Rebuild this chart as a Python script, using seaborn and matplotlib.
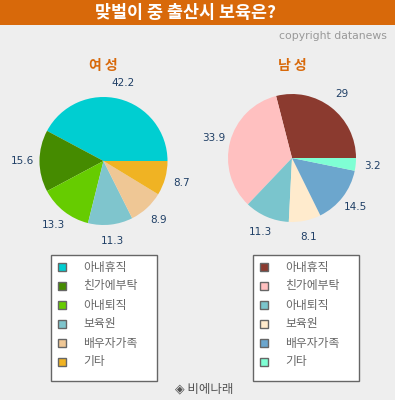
import numpy as np
import matplotlib
matplotlib.use('Agg')
import matplotlib.pyplot as plt
import seaborn as sns
from matplotlib.patches import Rectangle

# data
female_cats = ['아내휴직', '친가에부탁', '아내퇴직', '보육원', '배우자가족', '기타']
female_vals = [42.2, 15.6, 13.3, 11.3, 8.9, 8.7]
male_cats = ['아내휴직', '친가에부탁', '아내퇴직', '보육원', '배우자가족', '기타']
male_vals = [29, 33.9, 11.3, 8.1, 14.5, 3.2]
female_colors = ['#00CED1', '#458B00', '#66CC00', '#7FC5CD', '#EFC795', '#F0B323']
male_colors = ['#8B3A2F', '#FFC0C0', '#7AC5CD', '#FFEBCD', '#6CA6CD', '#7FFFD4']

sns.set_style('white')
plt.rcParams['font.family'] = ['Noto Sans CJK KR', 'DejaVu Sans']

W, H = 395, 400
bg = '#EEEEEE'
fig = plt.figure(figsize=(W / 100, H / 100), dpi=100, facecolor=bg)

# overlay axes in pixel coordinates
ov = fig.add_axes([0, 0, 1, 1])
ov.set_xlim(0, W)
ov.set_ylim(H, 0)
ov.axis('off')

ov.add_patch(Rectangle((0, 0), W, 25, color='#D8690A', lw=0))
ov.text(185.5, 13, '맞벌이 중 출산시 보육은?', color='white', fontsize=12.5,
        fontweight='bold', ha='center', va='center')
ov.text(387, 36, 'copyright datanews', color='#999999', fontsize=7.8,
        ha='right', va='center', family=['DejaVu Sans'])


def draw_pie(cx, cy, r, vals, colors, title):
    ax = fig.add_axes([(cx - r) / W, (H - cy - r) / H, 2 * r / W, 2 * r / H])
    ax.set_facecolor('none')
    wedges, _ = ax.pie(vals, colors=colors, startangle=0, counterclock=True,
                       wedgeprops=dict(linewidth=0))
    ax.set_xlim(-1, 1)
    ax.set_ylim(-1, 1)
    ax.axis('off')
    for w, v in zip(wedges, vals):
        ang = np.deg2rad((w.theta1 + w.theta2) / 2)
        ax.text(1.26 * np.cos(ang), 1.26 * np.sin(ang), f'{v:g}',
                ha='center', va='center', fontsize=7.5, color='#1F3F66',
                family=['DejaVu Sans'], clip_on=False)
    ov.text(cx, 66, title, color='#D8690A', fontsize=10, fontweight='bold',
            ha='center', va='center')


draw_pie(103.5, 161, 64, female_vals, female_colors, '여 성')
draw_pie(292, 158, 64, male_vals, male_colors, '남 성')


def draw_legend(x0, cats, colors):
    ov.add_patch(Rectangle((x0, 255), 106, 126, facecolor='white',
                           edgecolor='#666666', lw=1))
    for i, (c, col) in enumerate(zip(cats, colors)):
        y = 267 + i * 19
        ov.add_patch(Rectangle((x0 + 7, y - 4), 8, 8, facecolor=col,
                               edgecolor='#666666', lw=1))
        ov.text(x0 + 32, y, c, color='#666666', fontsize=8.5, ha='left', va='center')


draw_legend(51, female_cats, female_colors)
draw_legend(253, male_cats, male_colors)

ov.text(204, 389, '◈ 비에나래', color='#555555', fontsize=9, ha='center', va='center')

fig.savefig('out.png', dpi=100, facecolor=bg)
